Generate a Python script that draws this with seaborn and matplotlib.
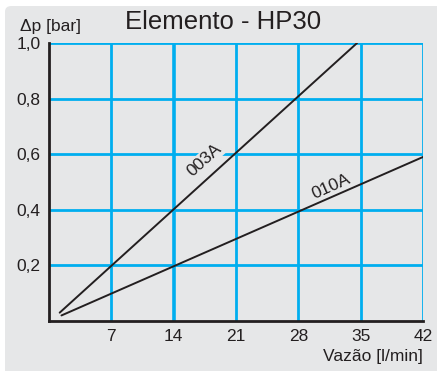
import matplotlib
matplotlib.use("Agg")
import matplotlib.pyplot as plt
import seaborn as sns
import pandas as pd
from matplotlib.patches import FancyBboxPatch

sns.set_theme(style="white")
plt.rcParams['font.family'] = ['Liberation Sans', 'DejaVu Sans']

# data
series_names = ["003A", "010A"]
flow_003A = [1.2, 34.6]
dp_003A = [0.03, 1.0]
flow_010A = [1.4, 42.0]
dp_010A = [0.02, 0.59]
x_ticks = [7, 14, 21, 28, 35, 42]
y_ticks = [0.2, 0.4, 0.6, 0.8, 1.0]
y_tick_labels = ["0,2", "0,4", "0,6", "0,8", "1,0"]

df = pd.DataFrame({
    "flow": flow_003A + flow_010A,
    "dp": dp_003A + dp_010A,
    "series": [series_names[0]] * len(flow_003A) + [series_names[1]] * len(flow_010A),
})

GRAY = "#e6e7e8"
BLUE = "#00aeef"
DARK = "#231f20"
FS = 12.5

fig = plt.figure(figsize=(4.37, 3.71), dpi=100)
fig.patch.set_facecolor("white")
panel = FancyBboxPatch((5/437, -0.02), 1 - 5/437 + 0.02, 1 - 6/371 + 0.02,
                       boxstyle="round,pad=0,rounding_size=0.015",
                       transform=fig.transFigure, facecolor=GRAY, edgecolor="none", zorder=-5)
fig.patches.append(panel)

ax = fig.add_axes([49/437, 1 - 321/371, (423 - 49)/437, (321 - 43)/371])
ax.set_facecolor(GRAY)

for xv in x_ticks:
    ax.axvline(xv, color=BLUE, lw=2.6 if xv == 14 else 2.0, zorder=1)
for yv in y_ticks:
    ax.axhline(yv, color=BLUE, lw=2.0, zorder=1)

sns.lineplot(data=df, x="flow", y="dp", hue="series", palette=[DARK, DARK],
             legend=False, lw=1.4, ax=ax, zorder=3)

ax.set_xlim(0, 42)
ax.set_ylim(0, 1.0)
ax.set_xticks(x_ticks)
ax.set_xticklabels([str(v) for v in x_ticks], fontsize=FS, color=DARK)
ax.set_yticks(y_ticks)
ax.set_yticklabels(y_tick_labels, fontsize=FS, color=DARK)
ax.tick_params(axis="both", length=0, pad=6)
ax.set_xlabel("")
ax.set_ylabel("")

for s in ["top", "right"]:
    ax.spines[s].set_visible(False)
for s in ["left", "bottom"]:
    ax.spines[s].set_color(DARK)
    ax.spines[s].set_linewidth(2.0)
    ax.spines[s].set_zorder(4)

bbox = dict(facecolor=GRAY, edgecolor="none", pad=1.0)
ax.text(17.5, 0.58, "003A", rotation=42, fontsize=FS, color=DARK,
        ha="center", va="center", bbox=bbox, zorder=2)
ax.text(31.7, 0.483, "010A", rotation=24, fontsize=FS, color=DARK,
        ha="center", va="center", zorder=2)

fig.text(223/437, 1 - 22/371, "Elemento - HP30", fontsize=18.5, color=DARK,
         ha="center", va="center")
fig.text(20/437, 1 - 26/371, "Δp [bar]", fontsize=FS, color=DARK,
         ha="left", va="center")
fig.text(423/437, 1 - 357/371, "Vazão [l/min]", fontsize=FS, color=DARK,
         ha="right", va="center")

fig.savefig("out.png", dpi=100, facecolor=fig.get_facecolor())
